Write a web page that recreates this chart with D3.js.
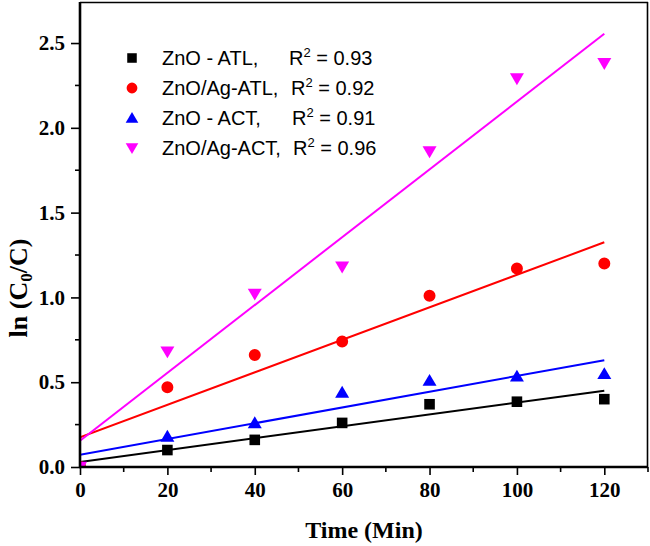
<!DOCTYPE html>
<html>
<head>
<meta charset="utf-8">
<script src="https://cdn.jsdelivr.net/npm/d3@7"></script>
<style>
  html, body { margin: 0; padding: 0; background: #fff; }
  svg { display: block; }
</style>
</head>
<body>
<script>
// ---- data ----
const times = [0, 20, 40, 60, 80, 100, 120];
const znoATL   = [0, 0.10, 0.16, 0.26, 0.37, 0.385, 0.40];
const znoAgATL = [0, 0.47, 0.66, 0.74, 1.01, 1.17, 1.20];
const znoACT   = [0, 0.18, 0.26, 0.44, 0.51, 0.535, 0.55];
const znoAgACT = [0, 0.68, 1.02, 1.18, 1.86, 2.29, 2.38];
const seriesNames = ["ZnO - ATL,", "ZnO/Ag-ATL,", "ZnO - ACT,", "ZnO/Ag-ACT,"];
const r2Values = ["0.93", "0.92", "0.91", "0.96"];
const fitTimes = [0, 120];
const fitStart = [0.03, 0.175, 0.072, 0.155];
const fitEnd   = [0.45, 1.325, 0.63, 2.555];
const xTicks = [0, 20, 40, 60, 80, 100, 120];
const yTicks = [0, 0.5, 1.0, 1.5, 2.0, 2.5];
const xMinor = [10, 30, 50, 70, 90, 110, 130];
const yMinor = [0.25, 0.75, 1.25, 1.75, 2.25];

const colors = ["#000000", "#ff0000", "#0000ff", "#ff00ff"];
const shapes = ["square", "circle", "up", "down"];
const allValues = [znoATL, znoAgATL, znoACT, znoAgACT];

const W = 650, H = 546;
const L = 80, R = 648, T = 2, B = 467;

const svg = d3.select("body").append("svg").attr("width", W).attr("height", H);

const x = d3.scaleLinear().domain([0, 130]).range([L, R]);
const y = d3.scaleLinear().domain([0, 2.742]).range([B, T]);

svg.append("defs").append("clipPath").attr("id", "plotclip")
  .append("rect").attr("x", L).attr("y", T).attr("width", R - L).attr("height", B - T);

function markerPath(shape) {
  if (shape === "square") return "M-5.3,-5.3H5.3V5.3H-5.3Z";
  if (shape === "circle") return d3.symbol(d3.symbolCircle, 113)();
  if (shape === "up") return "M0,-6.6L7,5.3L-7,5.3Z";
  return "M0,6.6L7,-5.3L-7,-5.3Z";
}

const plot = svg.append("g").attr("clip-path", "url(#plotclip)");

// fit lines
const line = d3.line().x(d => x(d[0])).y(d => y(d[1]));
allValues.forEach((vals, i) => {
  plot.append("path")
    .attr("d", line([[fitTimes[0], fitStart[i]], [fitTimes[1], fitEnd[i]]]))
    .attr("fill", "none").attr("stroke", colors[i]).attr("stroke-width", 2);
});

// markers
allValues.forEach((vals, i) => {
  plot.selectAll(null).data(times.map((t, k) => [t, vals[k]])).enter()
    .append("path")
    .attr("d", markerPath(shapes[i]))
    .attr("transform", d => `translate(${x(d[0])},${y(d[1])})`)
    .attr("fill", colors[i]);
});

// frame top/right
svg.append("line").attr("x1", L).attr("x2", R).attr("y1", T + 0.5).attr("y2", T + 0.5)
  .attr("stroke", "#000").attr("stroke-width", 1.6);
svg.append("line").attr("x1", R - 0.5).attr("x2", R - 0.5).attr("y1", T).attr("y2", B)
  .attr("stroke", "#000").attr("stroke-width", 1.6);

// axes
const tickFont = "'Liberation Serif', 'Times New Roman', serif";
const xAxis = d3.axisBottom(x).tickValues(xTicks).tickFormat(d3.format("d")).tickSize(8).tickPadding(6);
const gx = svg.append("g").attr("transform", `translate(0,${B})`).call(xAxis);
const yAxis = d3.axisLeft(y).tickValues(yTicks).tickFormat(d3.format(".1f")).tickSize(9).tickPadding(6);
const gy = svg.append("g").attr("transform", `translate(${L},0)`).call(yAxis);
[gx, gy].forEach(g => {
  g.select(".domain").attr("stroke-width", 2.6);
  g.selectAll(".tick line").attr("stroke-width", 1.6);
  g.selectAll(".tick text").attr("font-family", tickFont).attr("font-weight", "bold")
    .attr("font-size", 21).attr("fill", "#000");
});
gx.select(".domain").attr("d", `M${L - 1},0H${R}`);
gy.select(".domain").attr("d", `M0,${B + 1}V${T}`);
gx.selectAll(".tick text").attr("dy", "0.75em");

// minor ticks
svg.append("g").selectAll("line").data(xMinor).enter().append("line")
  .attr("x1", d => x(d)).attr("x2", d => x(d)).attr("y1", B).attr("y2", B + 5)
  .attr("stroke", "#000").attr("stroke-width", 1.6);
svg.append("g").selectAll("line").data(yMinor).enter().append("line")
  .attr("x1", L - 5).attr("x2", L).attr("y1", d => y(d)).attr("y2", d => y(d))
  .attr("stroke", "#000").attr("stroke-width", 1.6);

// axis titles
svg.append("text").attr("x", (L + R) / 2).attr("y", 538).attr("text-anchor", "middle")
  .attr("font-family", tickFont).attr("font-weight", "bold").attr("font-size", 24)
  .text("Time (Min)");

const yt = svg.append("text").attr("transform", "translate(27,288) rotate(-90)")
  .attr("text-anchor", "middle")
  .attr("font-family", tickFont).attr("font-weight", "bold").attr("font-size", 26);
yt.append("tspan").text("ln (C");
yt.append("tspan").attr("font-size", 17).attr("dy", 5).text("0");
yt.append("tspan").attr("dy", -5).text("/C)");

// legend
const legFont = "'Liberation Sans', Arial, sans-serif";
const rowY = [58, 88, 118, 148];
const rX = [289, 291, 292, 293];
seriesNames.forEach((name, i) => {
  svg.append("path").attr("d", markerPath(shapes[i]))
    .attr("transform", `translate(132,${rowY[i]}) scale(0.9)`).attr("fill", colors[i]);
  svg.append("text").attr("x", 162).attr("y", rowY[i] + 7)
    .attr("font-family", legFont).attr("font-size", 20).attr("fill", "#000").text(name);
  const t = svg.append("text").attr("x", rX[i]).attr("y", rowY[i] + 7)
    .attr("font-family", legFont).attr("font-size", 20).attr("fill", "#000");
  t.append("tspan").text("R");
  t.append("tspan").attr("font-size", 13).attr("dy", -8).text("2");
  t.append("tspan").attr("dy", 8).text(" = " + r2Values[i]);
});
</script>
</body>
</html>
